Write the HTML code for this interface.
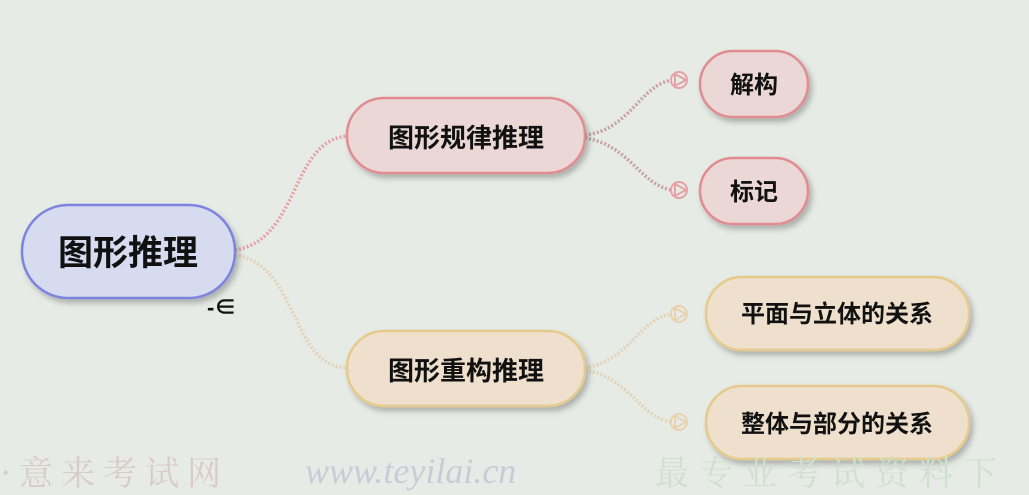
<!DOCTYPE html>
<html><head><meta charset="utf-8"><style>
html,body{margin:0;padding:0;background:#e6ebe6;}
svg{display:block}
text{font-family:"Liberation Sans","Noto Sans CJK SC",sans-serif;font-weight:bold;fill:#111;}
</style></head><body>
<svg width="1029" height="495" viewBox="0 0 1029 495">
<defs>
<filter id="sh" x="-10%" y="-10%" width="130%" height="140%"><feDropShadow dx="3" dy="4" stdDeviation="3" flood-color="#000" flood-opacity="0.25"/></filter>
</defs>
<rect width="1029" height="495" fill="#e6ebe6"/>
<g fill="none" stroke-width="3.5" stroke-dasharray="2 2">
<path d="M235 250 C300 240 290 140 348 136" stroke="#e7a0a6"/>
<path d="M235 255 C300 265 290 368 348 368" stroke="#e3d2b8"/>
<path d="M585 135 C630 130 640 85 672 80" stroke="#c9a0a0"/>
<path d="M585 138 C630 145 640 185 672 190" stroke="#c9a0a0"/>
<path d="M585 368 C630 360 640 318 672 314" stroke="#e3d2b8"/>
<path d="M585 370 C630 378 640 418 672 422" stroke="#e3d2b8"/>
</g>
<g fill="none" stroke-width="2">
<circle cx="679" cy="80" r="8" stroke="#e7a0a6"/><path d="M675 74 L686 80 L675 86 Z" stroke="#e7a0a6"/>
<circle cx="679" cy="190" r="8" stroke="#e7a0a6"/><path d="M675 184 L686 190 L675 196 Z" stroke="#e7a0a6"/>
<circle cx="679" cy="314" r="8" stroke="#e8d2b0"/><path d="M675 308 L686 314 L675 320 Z" stroke="#e8d2b0"/>
<circle cx="679" cy="422" r="8" stroke="#e8d2b0"/><path d="M675 416 L686 422 L675 428 Z" stroke="#e8d2b0"/>
</g>
<rect x="22" y="205" width="213" height="93" rx="46" fill="#d6dbf0" stroke="#7c84e0" stroke-width="2.5" filter="url(#sh)"/>
<text x="128" y="265" font-size="35" text-anchor="middle">图形推理</text>
<text x="207" y="315" font-size="22">-∈</text>

<rect x="347" y="98" width="238" height="75" rx="37" fill="#ecd7d7" stroke="#e08c90" stroke-width="2.5" filter="url(#sh)"/>
<text x="466" y="147" font-size="26" text-anchor="middle">图形规律推理</text>

<rect x="347" y="331" width="238" height="75" rx="37" fill="#efe0ce" stroke="#e6ca8c" stroke-width="2.5" filter="url(#sh)"/>
<text x="466" y="380" font-size="26" text-anchor="middle">图形重构推理</text>

<rect x="700" y="51" width="108" height="66" rx="33" fill="#ecd7d7" stroke="#e08c90" stroke-width="2.5" filter="url(#sh)"/>
<text x="754" y="93" font-size="24" text-anchor="middle">解构</text>
<rect x="700" y="158" width="108" height="66" rx="33" fill="#ecd7d7" stroke="#e08c90" stroke-width="2.5" filter="url(#sh)"/>
<text x="754" y="200" font-size="24" text-anchor="middle">标记</text>

<rect x="706" y="277" width="263" height="73" rx="36" fill="#efe0ce" stroke="#e6ca8c" stroke-width="2.5" filter="url(#sh)"/>
<text x="837" y="322" font-size="24" text-anchor="middle">平面与立体的关系</text>
<rect x="706" y="386" width="263" height="73" rx="36" fill="#efe0ce" stroke="#e6ca8c" stroke-width="2.5" filter="url(#sh)"/>
<text x="837" y="432" font-size="24" text-anchor="middle">整体与部分的关系</text>

<text x="0" y="485" font-size="34" style="fill:#d9ccc8;font-weight:normal;font-family:'Noto Serif CJK SC',serif;letter-spacing:8px">·意来考试网</text>
<text x="305" y="483" font-size="36" style="fill:#c9ccd6;font-weight:normal;font-family:'Liberation Serif',serif;font-style:italic">www.teyilai.cn</text>
<text x="655" y="485" font-size="34" style="fill:#cfe0cc;font-weight:normal;font-family:'Noto Serif CJK SC',serif;letter-spacing:10px">最专业考试资料下</text>
</svg>
</body></html>
